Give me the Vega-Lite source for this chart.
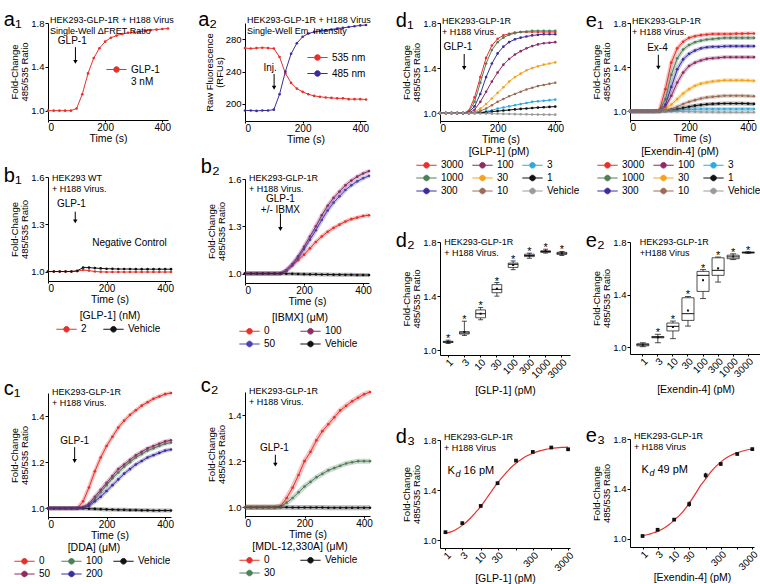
{
"$schema":"https://vega.github.io/schema/vega-lite/v6.json",
"background":"white",
"padding":{"left":3,"top":10,"right":0,"bottom":0},
"config":{
 "font":"Liberation Sans",
 "view":{"stroke":null},
 "axis":{"grid":false,"domainColor":"#000","tickColor":"#000","labelColor":"#000","titleColor":"#000","labelFontSize":10,"titleFontSize":10.5,"titleFontWeight":"normal","tickSize":3,"labelPadding":1,"titlePadding":2},
 "axisX":{"tickSize":2,"titlePadding":1,"labelPadding":0},
 "axisY":{"titlePadding":1,"titleLineHeight":10,"titleFontSize":9.5,"labelFontSize":9.5},
 "legend":{"titleFontWeight":"normal","titleFontSize":10.5,"labelFontSize":10,"titleAnchor":"middle","columnPadding":10,"rowPadding":0,"labelOffset":7,"titlePadding":0,"titleColor":"#000","labelColor":"#000"},
 "title":{"fontSize":20,"fontWeight":"normal","anchor":"start","frame":"bounds","offset":-14,"dx":-6,"color":"#000"},
 "text":{"color":"#000"}
},
"spacing":15,
"resolve":{"scale":{"color":"independent","x":"independent","y":"independent"}},
"hconcat":[
{"spacing":19,"resolve":{"scale":{"color":"independent","x":"independent","y":"independent"}},"hconcat":[
{"spacing":44,"resolve":{"scale":{"color":"independent","x":"independent","y":"independent"}},"vconcat":[
 {"spacing":22,"resolve":{"scale":{"color":"independent","x":"independent","y":"independent"}},"vconcat":[
  {"title":{"text":"a₁"},"width":120,"height":97,
   "data":{"values":[{"t":0,"g":1},{"t":20,"g":1},{"t":40,"g":1},{"t":60,"g":1},{"t":80,"g":1},{"t":100,"g":1.02},{"t":120,"g":1.15},{"t":140,"g":1.34},{"t":160,"g":1.48},{"t":180,"g":1.57},{"t":200,"g":1.63},{"t":220,"g":1.665},{"t":240,"g":1.685},{"t":260,"g":1.7},{"t":280,"g":1.71},{"t":300,"g":1.715},{"t":320,"g":1.72},{"t":340,"g":1.73},{"t":360,"g":1.735},{"t":380,"g":1.74},{"t":400,"g":1.745},{"t":420,"g":1.75}]},
   "layer":[
    {"transform":[{"fold":["g"],"as":["s","v"]}],"mark":{"type":"line","strokeWidth":1},"encoding":{
      "x":{"field":"t","type":"quantitative","scale":{"domain":[0,420],"nice":false},"axis":{"values":[0,100,200,300,400],"title":"Time (s)"}},
      "y":{"field":"v","type":"quantitative","scale":{"domain":[0.915,1.8],"nice":false,"zero":false},"axis":{"values":[1,1.2,1.4,1.6,1.8],"format":".1f","title":["Fold-Change","485/535 Ratio"]}},
      "color":{"field":"s","type":"nominal","scale":{"domain":["g"],"range":["#e8302a"]},"legend":{"orient":"none","legendX":61,"legendY":39,"title":null,"labelExpr":"['GLP-1','3 nM']","symbolType":"M-1.45,0L-0.4,0M0.4,0L1.45,0M0.4,0A0.4,0.4,0,1,1,-0.4,0A0.4,0.4,0,1,1,0.4,0Z","symbolSize":196,"symbolStrokeWidth":1}}}},
    {"transform":[{"fold":["g"],"as":["s","v"]}],"mark":{"type":"point","filled":true,"size":7,"opacity":1},"encoding":{"x":{"field":"t","type":"quantitative"},"y":{"field":"v","type":"quantitative"},
      "color":{"field":"s","type":"nominal","scale":{"domain":["g"],"range":["#e8302a"]},"legend":{"orient":"none","legendX":61,"legendY":39,"title":null,"labelExpr":"['GLP-1','3 nM']","symbolType":"M-1.45,0L-0.4,0M0.4,0L1.45,0M0.4,0A0.4,0.4,0,1,1,-0.4,0A0.4,0.4,0,1,1,0.4,0Z","symbolSize":196,"symbolStrokeWidth":1}}}},
    {"data":{"values":[{}]},"mark":{"type":"text","align":"left","baseline":"bottom","fontSize":9,"lineHeight":10.5,"dx":2,"dy":2,"text":["HEK293-GLP-1R + H188 Virus","Single-Well ΔFRET Ratio"]},"encoding":{"x":{"datum":0},"y":{"datum":1.8}}},
    {"data":{"values":[{}]},"mark":{"type":"text","fontSize":10,"text":"GLP-1"},"encoding":{"x":{"datum":85},"y":{"datum":1.64}}},
    {"data":{"values":[{}]},"mark":{"type":"rule","color":"#000"},"encoding":{"x":{"datum":96},"y":{"datum":1.58},"y2":{"datum":1.455}}},
    {"data":{"values":[{}]},"mark":{"type":"point","shape":"triangle-down","filled":true,"size":20,"color":"#000","opacity":1},"encoding":{"x":{"datum":96},"y":{"datum":1.445}}}
   ]},
  {"title":{"text":"b₁"},"width":123,"height":104,
   "data":{"values":[{"t":0,"2":1,"Vehicle":1},{"t":20,"2":1,"Vehicle":1},{"t":40,"2":1,"Vehicle":1},{"t":60,"2":1,"Vehicle":1},{"t":80,"2":1,"Vehicle":1},{"t":100,"2":1.002,"Vehicle":1.005},{"t":120,"2":1.01,"Vehicle":1.025},{"t":140,"2":1.006,"Vehicle":1.025},{"t":160,"2":1,"Vehicle":1.022},{"t":180,"2":0.998,"Vehicle":1.02},{"t":200,"2":0.997,"Vehicle":1.018},{"t":220,"2":0.997,"Vehicle":1.017},{"t":240,"2":0.997,"Vehicle":1.016},{"t":260,"2":0.997,"Vehicle":1.016},{"t":280,"2":0.997,"Vehicle":1.016},{"t":300,"2":0.997,"Vehicle":1.015},{"t":320,"2":0.997,"Vehicle":1.015},{"t":340,"2":0.997,"Vehicle":1.015},{"t":360,"2":0.997,"Vehicle":1.015},{"t":380,"2":0.997,"Vehicle":1.015},{"t":400,"2":0.997,"Vehicle":1.015},{"t":420,"2":0.997,"Vehicle":1.015}]},
   "layer":[
    {"transform":[{"fold":["2","Vehicle"],"as":["s","v"]}],"mark":{"type":"line","strokeWidth":1},"encoding":{
      "x":{"field":"t","type":"quantitative","scale":{"domain":[0,420],"nice":false},"axis":{"values":[0,100,200,300,400],"title":"Time (s)"}},
      "y":{"field":"v","type":"quantitative","scale":{"domain":[0.94,1.6],"nice":false,"zero":false},"axis":{"values":[1,1.3,1.6],"format":".1f","title":["Fold-Change","485/535 Ratio"]}},
      "color":{"field":"s","type":"nominal","scale":{"domain":["2","Vehicle"],"range":["#e8302a","#111111"]},"legend":{"title":"[GLP-1] (nM)","orient":"none","legendX":11,"legendY":134,"direction":"horizontal","columns":2,"columnPadding":14,"symbolType":"M-1.45,0L-0.4,0M0.4,0L1.45,0M0.4,0A0.4,0.4,0,1,1,-0.4,0A0.4,0.4,0,1,1,0.4,0Z","symbolSize":196,"symbolStrokeWidth":1}}}},
    {"transform":[{"fold":["2","Vehicle"],"as":["s","v"]}],"mark":{"type":"point","filled":true,"size":7,"opacity":1},"encoding":{"x":{"field":"t","type":"quantitative"},"y":{"field":"v","type":"quantitative"},
      "color":{"field":"s","type":"nominal","scale":{"domain":["2","Vehicle"],"range":["#e8302a","#111111"]},"legend":{"title":"[GLP-1] (nM)","orient":"none","legendX":11,"legendY":134,"direction":"horizontal","columns":2,"columnPadding":14,"symbolType":"M-1.45,0L-0.4,0M0.4,0L1.45,0M0.4,0A0.4,0.4,0,1,1,-0.4,0A0.4,0.4,0,1,1,0.4,0Z","symbolSize":196,"symbolStrokeWidth":1}}}},
    {"data":{"values":[{}]},"mark":{"type":"text","align":"left","baseline":"bottom","fontSize":9,"lineHeight":10.5,"dx":4,"dy":6,"text":["HEK293 WT","+ H188 Virus."]},"encoding":{"x":{"datum":0},"y":{"datum":1.6}}},
    {"data":{"values":[{}]},"mark":{"type":"text","fontSize":10,"text":"GLP-1"},"encoding":{"x":{"datum":80},"y":{"datum":1.43}}},
    {"data":{"values":[{}]},"mark":{"type":"text","fontSize":10,"text":"Negative Control"},"encoding":{"x":{"datum":278},"y":{"datum":1.18}}},
    {"data":{"values":[{}]},"mark":{"type":"rule","color":"#000"},"encoding":{"x":{"datum":93},"y":{"datum":1.38},"y2":{"datum":1.325}}},
    {"data":{"values":[{}]},"mark":{"type":"point","shape":"triangle-down","filled":true,"size":20,"color":"#000","opacity":1},"encoding":{"x":{"datum":93},"y":{"datum":1.318}}}
   ]}
 ]},
 {"title":{"text":"c₁"},"width":123,"height":124,
  "data":{"values":[{"t":0,"0":1,"100":1,"Vehicle":1,"50":1,"200":1},{"t":20,"0":1,"100":1,"Vehicle":1,"50":1,"200":1},{"t":40,"0":1,"100":1,"Vehicle":1,"50":1,"200":1},{"t":60,"0":1,"100":1,"Vehicle":1,"50":1,"200":1},{"t":80,"0":1,"100":1,"Vehicle":1,"50":1,"200":1},{"t":100,"0":1,"100":1,"Vehicle":1,"50":1,"200":1},{"t":120,"0":1.03,"100":1.003,"Vehicle":0.999,"50":1.005,"200":1.002},{"t":140,"0":1.09,"100":1.015,"Vehicle":0.998,"50":1.02,"200":1.01},{"t":160,"0":1.16,"100":1.04,"Vehicle":0.997,"50":1.05,"200":1.03},{"t":180,"0":1.22,"100":1.07,"Vehicle":0.996,"50":1.08,"200":1.05},{"t":200,"0":1.27,"100":1.1,"Vehicle":0.995,"50":1.11,"200":1.075},{"t":220,"0":1.31,"100":1.13,"Vehicle":0.994,"50":1.14,"200":1.1},{"t":240,"0":1.35,"100":1.155,"Vehicle":0.993,"50":1.17,"200":1.125},{"t":260,"0":1.38,"100":1.18,"Vehicle":0.993,"50":1.19,"200":1.15},{"t":280,"0":1.405,"100":1.2,"Vehicle":0.992,"50":1.21,"200":1.17},{"t":300,"0":1.425,"100":1.22,"Vehicle":0.992,"50":1.23,"200":1.19},{"t":320,"0":1.445,"100":1.235,"Vehicle":0.991,"50":1.245,"200":1.205},{"t":340,"0":1.46,"100":1.25,"Vehicle":0.991,"50":1.26,"200":1.22},{"t":360,"0":1.475,"100":1.26,"Vehicle":0.99,"50":1.27,"200":1.23},{"t":380,"0":1.485,"100":1.27,"Vehicle":0.99,"50":1.28,"200":1.24},{"t":400,"0":1.495,"100":1.28,"Vehicle":0.99,"50":1.29,"200":1.25},{"t":420,"0":1.5,"100":1.285,"Vehicle":0.99,"50":1.295,"200":1.255}]},
  "layer":[
   {"transform":[{"fold":["0","100","Vehicle","50","200"],"as":["s","v"]}],"mark":{"type":"line","strokeWidth":1},"encoding":{
     "x":{"field":"t","type":"quantitative","scale":{"domain":[0,420],"nice":false},"axis":{"values":[0,100,200,300,400],"title":"Time (s)"}},
     "y":{"field":"v","type":"quantitative","scale":{"domain":[0.962,1.5],"nice":false,"zero":false},"axis":{"values":[1,1.1,1.2,1.3,1.4,1.5],"format":".1f","title":["Fold-Change","485/535 Ratio"]}},
     "color":{"field":"s","type":"nominal","scale":{"domain":["0","100","Vehicle","50","200"],"range":["#e8302a","#4e7f59","#111111","#8e2b64","#3a2e9e"]},"legend":{"title":"[DDA] (μM)","orient":"none","legendX":-31,"legendY":150,"direction":"horizontal","columns":3,"columnPadding":8,"symbolType":"M-1.45,0L-0.4,0M0.4,0L1.45,0M0.4,0A0.4,0.4,0,1,1,-0.4,0A0.4,0.4,0,1,1,0.4,0Z","symbolSize":196,"symbolStrokeWidth":1}}}},
   {"transform":[{"fold":["0","100","Vehicle","50","200"],"as":["s","v"]}],"mark":{"type":"point","filled":true,"size":7,"opacity":1},"encoding":{"x":{"field":"t","type":"quantitative"},"y":{"field":"v","type":"quantitative"},
     "color":{"field":"s","type":"nominal","scale":{"domain":["0","100","Vehicle","50","200"],"range":["#e8302a","#4e7f59","#111111","#8e2b64","#3a2e9e"]},"legend":{"title":"[DDA] (μM)","orient":"none","legendX":-31,"legendY":150,"direction":"horizontal","columns":3,"columnPadding":8,"symbolType":"M-1.45,0L-0.4,0M0.4,0L1.45,0M0.4,0A0.4,0.4,0,1,1,-0.4,0A0.4,0.4,0,1,1,0.4,0Z","symbolSize":196,"symbolStrokeWidth":1}}}},
   {"transform":[{"fold":["0","100","Vehicle","50","200"],"as":["s","v"]}],"mark":{"type":"line","strokeWidth":4,"opacity":0.3},"encoding":{"x":{"field":"t","type":"quantitative"},"y":{"field":"v","type":"quantitative"},
     "color":{"field":"s","type":"nominal","scale":{"domain":["0","100","Vehicle","50","200"],"range":["#e8302a","#4e7f59","#111111","#8e2b64","#3a2e9e"]},"legend":{"title":"[DDA] (μM)","orient":"none","legendX":-31,"legendY":150,"direction":"horizontal","columns":3,"columnPadding":8,"symbolType":"M-1.45,0L-0.4,0M0.4,0L1.45,0M0.4,0A0.4,0.4,0,1,1,-0.4,0A0.4,0.4,0,1,1,0.4,0Z","symbolSize":196,"symbolStrokeWidth":1}}}},
   {"data":{"values":[{}]},"mark":{"type":"text","align":"left","baseline":"bottom","fontSize":9,"lineHeight":10.5,"dx":4,"dy":4,"text":["HEK293-GLP-1R","+ H188 Virus."]},"encoding":{"x":{"datum":0},"y":{"datum":1.5}}},
   {"data":{"values":[{}]},"mark":{"type":"text","fontSize":10,"text":"GLP-1"},"encoding":{"x":{"datum":91},"y":{"datum":1.293}}},
   {"data":{"values":[{}]},"mark":{"type":"rule","color":"#000"},"encoding":{"x":{"datum":91},"y":{"datum":1.265},"y2":{"datum":1.21}}},
   {"data":{"values":[{}]},"mark":{"type":"point","shape":"triangle-down","filled":true,"size":20,"color":"#000","opacity":1},"encoding":{"x":{"datum":91},"y":{"datum":1.205}}}
  ]}
]},
{"spacing":27,"resolve":{"scale":{"color":"independent","x":"independent","y":"independent"}},"vconcat":[
 {"spacing":12,"resolve":{"scale":{"color":"independent","x":"independent","y":"independent"}},"vconcat":[
 {"title":{"text":"a₂"},"width":121,"height":98,
  "data":{"values":[{"t":0,"535 nm":269,"485 nm":192},{"t":20,"535 nm":268.5,"485 nm":192},{"t":40,"535 nm":269,"485 nm":191.5},{"t":60,"535 nm":269.5,"485 nm":192},{"t":80,"535 nm":269,"485 nm":192},{"t":100,"535 nm":268.5,"485 nm":193},{"t":120,"535 nm":258,"485 nm":212},{"t":140,"535 nm":238,"485 nm":240},{"t":160,"535 nm":226,"485 nm":262},{"t":180,"535 nm":219,"485 nm":275},{"t":200,"535 nm":215,"485 nm":283},{"t":220,"535 nm":212,"485 nm":287},{"t":240,"535 nm":210,"485 nm":289},{"t":260,"535 nm":209,"485 nm":290},{"t":280,"535 nm":208,"485 nm":291},{"t":300,"535 nm":207.5,"485 nm":292},{"t":320,"535 nm":207,"485 nm":293},{"t":340,"535 nm":207,"485 nm":294},{"t":360,"535 nm":206,"485 nm":295},{"t":380,"535 nm":206,"485 nm":296},{"t":400,"535 nm":206,"485 nm":297},{"t":420,"535 nm":205.5,"485 nm":297.5}]},
  "layer":[
   {"transform":[{"fold":["535 nm","485 nm"],"as":["s","v"]}],"mark":{"type":"line","strokeWidth":1},"encoding":{
     "x":{"field":"t","type":"quantitative","scale":{"domain":[0,420],"nice":false},"axis":{"values":[0,100,200,300,400],"title":"Time (s)"}},
     "y":{"field":"v","type":"quantitative","scale":{"domain":[179,300],"nice":false,"zero":false},"axis":{"values":[200,220,240,260,280,300],"title":["Raw Fluorescence","(RFUs)"]}},
     "color":{"field":"s","type":"nominal","scale":{"domain":["535 nm","485 nm"],"range":["#e8302a","#3a2e9e"]},"legend":{"orient":"none","legendX":65,"legendY":27,"title":null,"symbolType":"M-1.45,0L-0.4,0M0.4,0L1.45,0M0.4,0A0.4,0.4,0,1,1,-0.4,0A0.4,0.4,0,1,1,0.4,0Z","symbolSize":196,"symbolStrokeWidth":1,"rowPadding":3}}}},
   {"transform":[{"fold":["535 nm","485 nm"],"as":["s","v"]}],"mark":{"type":"point","filled":true,"size":7,"opacity":1},"encoding":{"x":{"field":"t","type":"quantitative"},"y":{"field":"v","type":"quantitative"},
     "color":{"field":"s","type":"nominal","scale":{"domain":["535 nm","485 nm"],"range":["#e8302a","#3a2e9e"]},"legend":{"orient":"none","legendX":65,"legendY":27,"title":null,"symbolType":"M-1.45,0L-0.4,0M0.4,0L1.45,0M0.4,0A0.4,0.4,0,1,1,-0.4,0A0.4,0.4,0,1,1,0.4,0Z","symbolSize":196,"symbolStrokeWidth":1,"rowPadding":3}}}},
   {"data":{"values":[{}]},"mark":{"type":"text","align":"left","baseline":"bottom","fontSize":9,"lineHeight":10.5,"dx":2,"dy":2,"text":["HEK293-GLP-1R + H188 Virus","Single-Well Em. Intensity"]},"encoding":{"x":{"datum":0},"y":{"datum":300}}},
   {"data":{"values":[{}]},"mark":{"type":"text","fontSize":10,"text":"Inj."},"encoding":{"x":{"datum":87},"y":{"datum":244}}},
   {"data":{"values":[{}]},"mark":{"type":"rule","color":"#000"},"encoding":{"x":{"datum":101},"y":{"datum":237},"y2":{"datum":222}}},
   {"data":{"values":[{}]},"mark":{"type":"point","shape":"triangle-down","filled":true,"size":20,"color":"#000","opacity":1},"encoding":{"x":{"datum":101},"y":{"datum":220}}}
  ]},
 {"title":{"text":"b₂"},"width":124,"height":104,
  "data":{"values":[{"t":0,"0":1,"100":1,"50":1,"Vehicle":1},{"t":20,"0":1,"100":1,"50":1,"Vehicle":1},{"t":40,"0":1,"100":1,"50":1,"Vehicle":1},{"t":60,"0":1,"100":1,"50":1,"Vehicle":1},{"t":80,"0":1,"100":1,"50":1,"Vehicle":1},{"t":100,"0":1,"100":1,"50":1,"Vehicle":1},{"t":120,"0":1,"100":1,"50":1,"Vehicle":1},{"t":140,"0":1.02,"100":1.02,"50":1.02,"Vehicle":0.999},{"t":160,"0":1.05,"100":1.06,"50":1.055,"Vehicle":0.998},{"t":180,"0":1.085,"100":1.11,"50":1.1,"Vehicle":0.997},{"t":200,"0":1.12,"100":1.17,"50":1.155,"Vehicle":0.996},{"t":220,"0":1.16,"100":1.235,"50":1.215,"Vehicle":0.995},{"t":240,"0":1.2,"100":1.3,"50":1.275,"Vehicle":0.995},{"t":260,"0":1.235,"100":1.37,"50":1.34,"Vehicle":0.994},{"t":280,"0":1.265,"100":1.43,"50":1.4,"Vehicle":0.994},{"t":300,"0":1.29,"100":1.48,"50":1.45,"Vehicle":0.993},{"t":320,"0":1.31,"100":1.52,"50":1.49,"Vehicle":0.993},{"t":340,"0":1.33,"100":1.56,"50":1.53,"Vehicle":0.992},{"t":360,"0":1.345,"100":1.59,"50":1.56,"Vehicle":0.992},{"t":380,"0":1.355,"100":1.615,"50":1.585,"Vehicle":0.991},{"t":400,"0":1.365,"100":1.635,"50":1.605,"Vehicle":0.991},{"t":420,"0":1.37,"100":1.65,"50":1.62,"Vehicle":0.99}]},
  "layer":[
   {"transform":[{"fold":["0","100","50","Vehicle"],"as":["s","v"]}],"mark":{"type":"line","strokeWidth":1},"encoding":{
     "x":{"field":"t","type":"quantitative","scale":{"domain":[0,420],"nice":false},"axis":{"values":[0,100,200,300,400],"title":"Time (s)"}},
     "y":{"field":"v","type":"quantitative","scale":{"domain":[0.94,1.6],"nice":false,"zero":false},"axis":{"values":[1,1.3,1.6],"format":".1f","title":["Fold-Change","485/535 Ratio"]}},
     "color":{"field":"s","type":"nominal","scale":{"domain":["0","100","50","Vehicle"],"range":["#e8302a","#8e2b64","#4b41b0","#111111"]},"legend":{"title":"[IBMX] (μM)","orient":"none","legendX":-3,"legendY":134,"direction":"horizontal","columns":2,"columnPadding":22,"symbolType":"M-1.45,0L-0.4,0M0.4,0L1.45,0M0.4,0A0.4,0.4,0,1,1,-0.4,0A0.4,0.4,0,1,1,0.4,0Z","symbolSize":196,"symbolStrokeWidth":1}}}},
   {"transform":[{"fold":["0","100","50","Vehicle"],"as":["s","v"]}],"mark":{"type":"point","filled":true,"size":7,"opacity":1},"encoding":{"x":{"field":"t","type":"quantitative"},"y":{"field":"v","type":"quantitative"},
     "color":{"field":"s","type":"nominal","scale":{"domain":["0","100","50","Vehicle"],"range":["#e8302a","#8e2b64","#4b41b0","#111111"]},"legend":{"title":"[IBMX] (μM)","orient":"none","legendX":-3,"legendY":134,"direction":"horizontal","columns":2,"columnPadding":22,"symbolType":"M-1.45,0L-0.4,0M0.4,0L1.45,0M0.4,0A0.4,0.4,0,1,1,-0.4,0A0.4,0.4,0,1,1,0.4,0Z","symbolSize":196,"symbolStrokeWidth":1}}}},
   {"transform":[{"fold":["0","100","50","Vehicle"],"as":["s","v"]}],"mark":{"type":"line","strokeWidth":4,"opacity":0.3},"encoding":{"x":{"field":"t","type":"quantitative"},"y":{"field":"v","type":"quantitative"},
     "color":{"field":"s","type":"nominal","scale":{"domain":["0","100","50","Vehicle"],"range":["#e8302a","#8e2b64","#4b41b0","#111111"]},"legend":{"title":"[IBMX] (μM)","orient":"none","legendX":-3,"legendY":134,"direction":"horizontal","columns":2,"columnPadding":22,"symbolType":"M-1.45,0L-0.4,0M0.4,0L1.45,0M0.4,0A0.4,0.4,0,1,1,-0.4,0A0.4,0.4,0,1,1,0.4,0Z","symbolSize":196,"symbolStrokeWidth":1}}}},
   {"data":{"values":[{}]},"mark":{"type":"text","align":"left","baseline":"bottom","fontSize":9,"lineHeight":10.5,"dx":4,"dy":4,"text":["HEK293-GLP-1R","+ H188 Virus."]},"encoding":{"x":{"datum":0},"y":{"datum":1.6}}},
   {"data":{"values":[{}]},"mark":{"type":"text","fontSize":10,"lineHeight":11,"text":["GLP-1","+/- IBMX"]},"encoding":{"x":{"datum":120},"y":{"datum":1.47}}},
   {"data":{"values":[{}]},"mark":{"type":"rule","color":"#000"},"encoding":{"x":{"datum":120},"y":{"datum":1.38},"y2":{"datum":1.29}}},
   {"data":{"values":[{}]},"mark":{"type":"point","shape":"triangle-down","filled":true,"size":20,"color":"#000","opacity":1},"encoding":{"x":{"datum":120},"y":{"datum":1.283}}}
  ]}
 ]},
 {"title":{"text":"c₂"},"width":125,"height":124,
  "data":{"values":[{"t":0,"0":1,"Vehicle":1,"30":1},{"t":20,"0":1,"Vehicle":1,"30":1},{"t":40,"0":1,"Vehicle":1,"30":1},{"t":60,"0":1,"Vehicle":1,"30":1},{"t":80,"0":1,"Vehicle":1,"30":1},{"t":100,"0":1,"Vehicle":1,"30":1},{"t":120,"0":1.005,"Vehicle":1,"30":1.003},{"t":140,"0":1.04,"Vehicle":1,"30":1.02},{"t":160,"0":1.085,"Vehicle":0.999,"30":1.04},{"t":180,"0":1.14,"Vehicle":0.999,"30":1.065},{"t":200,"0":1.2,"Vehicle":0.999,"30":1.09},{"t":220,"0":1.24,"Vehicle":0.999,"30":1.11},{"t":240,"0":1.29,"Vehicle":0.999,"30":1.13},{"t":260,"0":1.33,"Vehicle":0.999,"30":1.145},{"t":280,"0":1.36,"Vehicle":0.998,"30":1.16},{"t":300,"0":1.39,"Vehicle":0.998,"30":1.17},{"t":320,"0":1.42,"Vehicle":0.998,"30":1.18},{"t":340,"0":1.44,"Vehicle":0.998,"30":1.19},{"t":360,"0":1.46,"Vehicle":0.998,"30":1.195},{"t":380,"0":1.475,"Vehicle":0.998,"30":1.2},{"t":400,"0":1.49,"Vehicle":0.998,"30":1.2},{"t":420,"0":1.5,"Vehicle":0.998,"30":1.2}]},
  "layer":[
   {"transform":[{"fold":["0","Vehicle","30"],"as":["s","v"]}],"mark":{"type":"line","strokeWidth":1},"encoding":{
     "x":{"field":"t","type":"quantitative","scale":{"domain":[0,420],"nice":false},"axis":{"values":[0,100,200,300,400],"title":"Time (s)"}},
     "y":{"field":"v","type":"quantitative","scale":{"domain":[0.962,1.5],"nice":false,"zero":false},"axis":{"values":[1,1.1,1.2,1.3,1.4,1.5],"format":".1f","title":["Fold-Change","485/535 Ratio"]}},
     "color":{"field":"s","type":"nominal","scale":{"domain":["0","Vehicle","30"],"range":["#e8302a","#111111","#4e7f59"]},"legend":{"title":"[MDL-12,330A] (μM)","orient":"none","legendX":-3,"legendY":150,"direction":"horizontal","columns":2,"columnPadding":22,"symbolType":"M-1.45,0L-0.4,0M0.4,0L1.45,0M0.4,0A0.4,0.4,0,1,1,-0.4,0A0.4,0.4,0,1,1,0.4,0Z","symbolSize":196,"symbolStrokeWidth":1}}}},
   {"transform":[{"fold":["0","Vehicle","30"],"as":["s","v"]}],"mark":{"type":"point","filled":true,"size":7,"opacity":1},"encoding":{"x":{"field":"t","type":"quantitative"},"y":{"field":"v","type":"quantitative"},
     "color":{"field":"s","type":"nominal","scale":{"domain":["0","Vehicle","30"],"range":["#e8302a","#111111","#4e7f59"]},"legend":{"title":"[MDL-12,330A] (μM)","orient":"none","legendX":-3,"legendY":150,"direction":"horizontal","columns":2,"columnPadding":22,"symbolType":"M-1.45,0L-0.4,0M0.4,0L1.45,0M0.4,0A0.4,0.4,0,1,1,-0.4,0A0.4,0.4,0,1,1,0.4,0Z","symbolSize":196,"symbolStrokeWidth":1}}}},
   {"transform":[{"fold":["0","Vehicle","30"],"as":["s","v"]}],"mark":{"type":"line","strokeWidth":5,"opacity":0.3},"encoding":{"x":{"field":"t","type":"quantitative"},"y":{"field":"v","type":"quantitative"},
     "color":{"field":"s","type":"nominal","scale":{"domain":["0","Vehicle","30"],"range":["#e8302a","#111111","#4e7f59"]},"legend":{"title":"[MDL-12,330A] (μM)","orient":"none","legendX":-3,"legendY":150,"direction":"horizontal","columns":2,"columnPadding":22,"symbolType":"M-1.45,0L-0.4,0M0.4,0L1.45,0M0.4,0A0.4,0.4,0,1,1,-0.4,0A0.4,0.4,0,1,1,0.4,0Z","symbolSize":196,"symbolStrokeWidth":1}}}},
   {"data":{"values":[{}]},"mark":{"type":"text","align":"left","baseline":"bottom","fontSize":9,"lineHeight":10.5,"dx":4,"dy":4,"text":["HEK293-GLP-1R","+ H188 Virus."]},"encoding":{"x":{"datum":0},"y":{"datum":1.5}}},
   {"data":{"values":[{}]},"mark":{"type":"text","fontSize":10,"text":"GLP-1"},"encoding":{"x":{"datum":99},"y":{"datum":1.256}}},
   {"data":{"values":[{}]},"mark":{"type":"rule","color":"#000"},"encoding":{"x":{"datum":102},"y":{"datum":1.228},"y2":{"datum":1.19}}},
   {"data":{"values":[{}]},"mark":{"type":"point","shape":"triangle-down","filled":true,"size":20,"color":"#000","opacity":1},"encoding":{"x":{"datum":102},"y":{"datum":1.185}}}
  ]}
]}
]},
{"spacing":0,"resolve":{"scale":{"color":"independent","x":"independent","y":"independent"}},"hconcat":[
{"spacing":30,"resolve":{"scale":{"color":"independent","x":"independent","y":"independent"}},"vconcat":[
 {"title":{"text":"d₁"},"width":121,"height":98,
  "data":{"values":[
   {"t":0,"3000":1,"100":1,"3":1,"1000":1,"30":1,"1":1,"300":1,"10":1,"Vehicle":1},
   {"t":20,"3000":1,"100":1,"3":1,"1000":1,"30":1,"1":1,"300":1,"10":1,"Vehicle":1},
   {"t":40,"3000":1,"100":1,"3":1,"1000":1,"30":1,"1":1,"300":1,"10":1,"Vehicle":1},
   {"t":60,"3000":1,"100":1,"3":1,"1000":1,"30":1,"1":1,"300":1,"10":1,"Vehicle":1},
   {"t":80,"3000":1,"100":1,"3":1,"1000":1,"30":1,"1":1,"300":1,"10":1,"Vehicle":1},
   {"t":100,"3000":1.02,"100":1,"3":1,"1000":1.01,"30":1,"1":1,"300":1.005,"10":1,"Vehicle":0.999},
   {"t":120,"3000":1.14,"100":1.03,"3":1,"1000":1.1,"30":1.01,"1":1,"300":1.06,"10":1.005,"Vehicle":0.998},
   {"t":140,"3000":1.32,"100":1.1,"3":1.005,"1000":1.27,"30":1.04,"1":1.003,"300":1.17,"10":1.02,"Vehicle":0.997},
   {"t":160,"3000":1.49,"100":1.19,"3":1.015,"1000":1.44,"30":1.08,"1":1.008,"300":1.32,"10":1.04,"Vehicle":0.996},
   {"t":180,"3000":1.6,"100":1.28,"3":1.025,"1000":1.56,"30":1.13,"1":1.013,"300":1.44,"10":1.07,"Vehicle":0.995},
   {"t":200,"3000":1.66,"100":1.36,"3":1.04,"1000":1.63,"30":1.18,"1":1.018,"300":1.53,"10":1.1,"Vehicle":0.994},
   {"t":220,"3000":1.69,"100":1.43,"3":1.05,"1000":1.67,"30":1.23,"1":1.023,"300":1.59,"10":1.125,"Vehicle":0.993},
   {"t":240,"3000":1.705,"100":1.48,"3":1.06,"1000":1.695,"30":1.28,"1":1.028,"300":1.63,"10":1.15,"Vehicle":0.992},
   {"t":260,"3000":1.715,"100":1.52,"3":1.07,"1000":1.71,"30":1.32,"1":1.033,"300":1.655,"10":1.17,"Vehicle":0.991},
   {"t":280,"3000":1.72,"100":1.55,"3":1.08,"1000":1.72,"30":1.35,"1":1.037,"300":1.67,"10":1.19,"Vehicle":0.99},
   {"t":300,"3000":1.72,"100":1.575,"3":1.09,"1000":1.725,"30":1.38,"1":1.041,"300":1.68,"10":1.21,"Vehicle":0.989},
   {"t":320,"3000":1.72,"100":1.595,"3":1.1,"1000":1.73,"30":1.4,"1":1.045,"300":1.69,"10":1.225,"Vehicle":0.988},
   {"t":340,"3000":1.72,"100":1.61,"3":1.105,"1000":1.73,"30":1.415,"1":1.049,"300":1.695,"10":1.24,"Vehicle":0.987},
   {"t":360,"3000":1.72,"100":1.62,"3":1.11,"1000":1.73,"30":1.43,"1":1.052,"300":1.7,"10":1.25,"Vehicle":0.987},
   {"t":380,"3000":1.72,"100":1.625,"3":1.115,"1000":1.73,"30":1.44,"1":1.055,"300":1.7,"10":1.26,"Vehicle":0.986},
   {"t":400,"3000":1.72,"100":1.63,"3":1.12,"1000":1.73,"30":1.45,"1":1.058,"300":1.7,"10":1.27,"Vehicle":0.986}]},
  "layer":[
   {"transform":[{"fold":["3000","100","3","1000","30","1","300","10","Vehicle"],"as":["s","v"]}],"mark":{"type":"line","strokeWidth":1},"encoding":{
     "x":{"field":"t","type":"quantitative","scale":{"domain":[0,420],"nice":false},"axis":{"values":[0,100,200,300,400],"title":"Time (s)"}},
     "y":{"field":"v","type":"quantitative","scale":{"domain":[0.93,1.8],"nice":false,"zero":false},"axis":{"values":[1,1.2,1.4,1.6,1.8],"format":".1f","title":["Fold-Change","485/535 Ratio"]}},
     "color":{"field":"s","type":"nominal","scale":{"domain":["3000","100","3","1000","30","1","300","10","Vehicle"],"range":["#e8302a","#8e2b64","#31a9dc","#4e7f59","#f6a21c","#111111","#3a2e9e","#9c6b55","#9a9a9a"]},"legend":{"title":"[GLP-1] (pM)","orient":"none","legendX":-26,"legendY":119,"padding":5,"direction":"horizontal","columns":3,"columnPadding":6,"symbolType":"M-1.45,0L-0.4,0M0.4,0L1.45,0M0.4,0A0.4,0.4,0,1,1,-0.4,0A0.4,0.4,0,1,1,0.4,0Z","symbolSize":196,"symbolStrokeWidth":1}}}},
   {"transform":[{"fold":["3000","100","3","1000","30","1","300","10","Vehicle"],"as":["s","v"]}],"mark":{"type":"point","filled":true,"size":7,"opacity":1},"encoding":{"x":{"field":"t","type":"quantitative"},"y":{"field":"v","type":"quantitative"},
     "color":{"field":"s","type":"nominal","scale":{"domain":["3000","100","3","1000","30","1","300","10","Vehicle"],"range":["#e8302a","#8e2b64","#31a9dc","#4e7f59","#f6a21c","#111111","#3a2e9e","#9c6b55","#9a9a9a"]},"legend":{"title":"[GLP-1] (pM)","orient":"none","legendX":-26,"legendY":119,"padding":5,"direction":"horizontal","columns":3,"columnPadding":6,"symbolType":"M-1.45,0L-0.4,0M0.4,0L1.45,0M0.4,0A0.4,0.4,0,1,1,-0.4,0A0.4,0.4,0,1,1,0.4,0Z","symbolSize":196,"symbolStrokeWidth":1}}}},
   {"data":{"values":[{}]},"mark":{"type":"text","align":"left","baseline":"bottom","fontSize":9,"lineHeight":10.5,"dx":2,"dy":3,"text":["HEK293-GLP-1R","+ H188 Virus."]},"encoding":{"x":{"datum":0},"y":{"datum":1.8}}},
   {"data":{"values":[{}]},"mark":{"type":"text","fontSize":10,"text":"GLP-1"},"encoding":{"x":{"datum":62},"y":{"datum":1.584}}},
   {"data":{"values":[{}]},"mark":{"type":"rule","color":"#000"},"encoding":{"x":{"datum":84},"y":{"datum":1.525},"y2":{"datum":1.41}}},
   {"data":{"values":[{}]},"mark":{"type":"point","shape":"triangle-down","filled":true,"size":20,"color":"#000","opacity":1},"encoding":{"x":{"datum":84},"y":{"datum":1.4}}}
  ]},
 {"title":{"text":"d₂"},"width":130,"height":113,
  "data":{"values":[
   {"c":"1","lo":1.05,"q1":1.057,"md":1.062,"q3":1.066,"hi":1.075,"mn":1.062,"st":"*"},
   {"c":"3","lo":1.11,"q1":1.12,"md":1.128,"q3":1.138,"hi":1.215,"mn":1.135,"st":"*"},
   {"c":"10","lo":1.225,"q1":1.24,"md":1.27,"q3":1.298,"hi":1.317,"mn":1.27,"st":"*"},
   {"c":"30","lo":1.4,"q1":1.425,"md":1.45,"q3":1.485,"hi":1.5,"mn":1.455,"st":"*"},
   {"c":"100","lo":1.595,"q1":1.612,"md":1.635,"q3":1.644,"hi":1.66,"mn":1.63,"st":"*"},
   {"c":"300","lo":1.68,"q1":1.692,"md":1.7,"q3":1.71,"hi":1.718,"mn":1.7,"st":"*"},
   {"c":"1000","lo":1.718,"q1":1.723,"md":1.73,"q3":1.735,"hi":1.747,"mn":1.733,"st":"*"},
   {"c":"3000","lo":1.7,"q1":1.708,"md":1.717,"q3":1.724,"hi":1.73,"mn":1.717,"st":"*"}]},
  "encoding":{"x":{"field":"c","type":"ordinal","sort":null,"scale":{"paddingInner":0.4,"paddingOuter":0.2},"axis":{"labelAngle":-45,"title":"[GLP-1] (pM)","titlePadding":6}}},
  "layer":[
   {"mark":{"type":"rule","color":"#222","strokeWidth":0.8},"encoding":{"y":{"field":"lo","type":"quantitative","scale":{"domain":[0.965,1.8],"nice":false,"zero":false},"axis":{"values":[1,1.2,1.4,1.6,1.8],"format":".1f","title":["Fold-Change","485/535 Ratio"]}},"y2":{"field":"hi"}}},
   {"mark":{"type":"tick","size":5,"thickness":0.8,"color":"#222","opacity":1},"encoding":{"y":{"field":"lo","type":"quantitative"}}},
   {"mark":{"type":"tick","size":5,"thickness":0.8,"color":"#222","opacity":1},"encoding":{"y":{"field":"hi","type":"quantitative"}}},
   {"mark":{"type":"bar","fill":"white","stroke":"#222","strokeWidth":0.8},"encoding":{"y":{"field":"q1","type":"quantitative"},"y2":{"field":"q3"}}},
   {"mark":{"type":"tick","size":10,"thickness":1,"color":"#111","opacity":1},"encoding":{"y":{"field":"md","type":"quantitative"}}},
   {"mark":{"type":"point","shape":"square","filled":true,"size":4,"color":"#111","opacity":1},"encoding":{"y":{"field":"mn","type":"quantitative"}}},
   {"mark":{"type":"text","baseline":"bottom","dy":4,"fontSize":11},"encoding":{"y":{"field":"hi","type":"quantitative"},"text":{"field":"st"}}},
   {"data":{"values":[{}]},"mark":{"type":"text","align":"left","baseline":"bottom","fontSize":9,"lineHeight":10.5,"dx":1,"dy":5,"text":["HEK293-GLP-1R","+ H188 Virus."]},"encoding":{"x":{"datum":"1","bandPosition":0},"y":{"datum":1.8}}}
  ]},
 {"title":{"text":"d₃"},"width":130,"height":108,
  "layer":[
   {"data":{"values":[{"x":1,"y":1.056},{"x":1.5,"y":1.07},{"x":2,"y":1.087},{"x":3,"y":1.12},{"x":5,"y":1.175},{"x":7,"y":1.22},{"x":10,"y":1.27},{"x":15,"y":1.34},{"x":20,"y":1.39},{"x":30,"y":1.458},{"x":50,"y":1.532},{"x":70,"y":1.577},{"x":100,"y":1.615},{"x":150,"y":1.65},{"x":200,"y":1.672},{"x":300,"y":1.695},{"x":500,"y":1.715},{"x":700,"y":1.726},{"x":1000,"y":1.733},{"x":2000,"y":1.741},{"x":3000,"y":1.743}]},
    "mark":{"type":"line","color":"#e8302a","strokeWidth":1.2,"interpolate":"monotone"},
    "encoding":{"x":{"field":"x","type":"quantitative","scale":{"type":"log","domain":[0.7,3400],"nice":false},"axis":{"values":[1,3,10,30,100,300,1000,3000],"format":"d","labelAngle":-45,"title":"[GLP-1] (pM)"}},
     "y":{"field":"y","type":"quantitative","scale":{"domain":[0.94,1.8],"nice":false,"zero":false},"axis":{"values":[1,1.2,1.4,1.6,1.8],"format":".1f","title":["Fold-Change","485/535 Ratio"]}}}},
   {"data":{"values":[{"x":1,"y":1.066,"lo":1.06,"hi":1.072},{"x":3,"y":1.138,"lo":1.132,"hi":1.144},{"x":10,"y":1.275,"lo":1.267,"hi":1.283},{"x":30,"y":1.456,"lo":1.444,"hi":1.468},{"x":100,"y":1.636,"lo":1.63,"hi":1.642},{"x":300,"y":1.705,"lo":1.7,"hi":1.71},{"x":1000,"y":1.74,"lo":1.735,"hi":1.745},{"x":3000,"y":1.726,"lo":1.72,"hi":1.732}]},
    "layer":[
     {"mark":{"type":"rule","color":"#111"},"encoding":{"x":{"field":"x","type":"quantitative"},"y":{"field":"lo","type":"quantitative"},"y2":{"field":"hi"}}},
     {"mark":{"type":"point","shape":"square","filled":true,"size":14,"color":"#111","opacity":1},"encoding":{"x":{"field":"x","type":"quantitative"},"y":{"field":"y","type":"quantitative"}}}
    ]},
   {"data":{"values":[{}]},"mark":{"type":"text","align":"left","baseline":"bottom","fontSize":9,"lineHeight":10.5,"dx":4,"dy":2,"text":["HEK293-GLP-1R","+ H188 Virus"]},"encoding":{"x":{"datum":0.7},"y":{"datum":1.8}}},
   {"data":{"values":[{}]},"mark":{"type":"text","align":"left","baseline":"middle","fontSize":11,"text":"K"},"encoding":{"x":{"datum":1.15},"y":{"datum":1.55}}},
   {"data":{"values":[{}]},"mark":{"type":"text","align":"left","baseline":"middle","fontSize":9,"fontStyle":"italic","dx":8,"dy":3,"text":"d"},"encoding":{"x":{"datum":1.15},"y":{"datum":1.55}}},
   {"data":{"values":[{}]},"mark":{"type":"text","align":"left","baseline":"middle","fontSize":11,"dx":16,"text":"16 pM"},"encoding":{"x":{"datum":1.15},"y":{"datum":1.55}}}
  ]}
]},
{"spacing":30,"resolve":{"scale":{"color":"independent","x":"independent","y":"independent"}},"vconcat":[
 {"title":{"text":"e₁"},"width":124,"height":97,
  "data":{"values":[
   {"t":0,"3000":1,"100":1,"3":1,"1000":1,"30":1,"1":1,"300":1,"10":1,"Vehicle":1},
   {"t":20,"3000":1,"100":1,"3":1,"1000":1,"30":1,"1":1,"300":1,"10":1,"Vehicle":1},
   {"t":40,"3000":1,"100":1,"3":1,"1000":1,"30":1,"1":1,"300":1,"10":1,"Vehicle":1},
   {"t":60,"3000":1,"100":1,"3":1,"1000":1,"30":1,"1":1,"300":1,"10":1,"Vehicle":1},
   {"t":80,"3000":1,"100":1,"3":1,"1000":1,"30":1,"1":1,"300":1,"10":1,"Vehicle":1},
   {"t":100,"3000":1.01,"100":1,"3":1,"1000":1.005,"30":1,"1":1,"300":1,"10":1,"Vehicle":1},
   {"t":120,"3000":1.2,"100":1.04,"3":1,"1000":1.11,"30":1.02,"1":1.003,"300":1.06,"10":1.005,"Vehicle":0.999},
   {"t":140,"3000":1.44,"100":1.14,"3":1.003,"1000":1.33,"30":1.06,"1":1.01,"300":1.22,"10":1.02,"Vehicle":0.998},
   {"t":160,"3000":1.57,"100":1.26,"3":1.008,"1000":1.48,"30":1.11,"1":1.02,"300":1.38,"10":1.04,"Vehicle":0.997},
   {"t":180,"3000":1.63,"100":1.35,"3":1.012,"1000":1.56,"30":1.16,"1":1.03,"300":1.47,"10":1.065,"Vehicle":0.996},
   {"t":200,"3000":1.665,"100":1.41,"3":1.015,"1000":1.6,"30":1.2,"1":1.04,"300":1.52,"10":1.085,"Vehicle":0.995},
   {"t":220,"3000":1.68,"100":1.44,"3":1.018,"1000":1.625,"30":1.23,"1":1.05,"300":1.55,"10":1.1,"Vehicle":0.994},
   {"t":240,"3000":1.69,"100":1.46,"3":1.02,"1000":1.64,"30":1.25,"1":1.057,"300":1.57,"10":1.115,"Vehicle":0.993},
   {"t":260,"3000":1.695,"100":1.475,"3":1.02,"1000":1.65,"30":1.26,"1":1.062,"300":1.58,"10":1.125,"Vehicle":0.992},
   {"t":280,"3000":1.7,"100":1.48,"3":1.02,"1000":1.655,"30":1.27,"1":1.066,"300":1.585,"10":1.13,"Vehicle":0.992},
   {"t":300,"3000":1.7,"100":1.485,"3":1.02,"1000":1.66,"30":1.275,"1":1.068,"300":1.585,"10":1.135,"Vehicle":0.991},
   {"t":320,"3000":1.7,"100":1.49,"3":1.02,"1000":1.665,"30":1.28,"1":1.07,"300":1.588,"10":1.14,"Vehicle":0.991},
   {"t":340,"3000":1.7,"100":1.49,"3":1.02,"1000":1.665,"30":1.28,"1":1.07,"300":1.59,"10":1.14,"Vehicle":0.99},
   {"t":360,"3000":1.703,"100":1.49,"3":1.02,"1000":1.665,"30":1.28,"1":1.07,"300":1.59,"10":1.14,"Vehicle":0.99},
   {"t":380,"3000":1.703,"100":1.49,"3":1.02,"1000":1.665,"30":1.28,"1":1.07,"300":1.59,"10":1.14,"Vehicle":0.99},
   {"t":400,"3000":1.705,"100":1.49,"3":1.02,"1000":1.665,"30":1.278,"1":1.068,"300":1.59,"10":1.138,"Vehicle":0.99},
   {"t":420,"3000":1.705,"100":1.49,"3":1.02,"1000":1.665,"30":1.275,"1":1.066,"300":1.59,"10":1.135,"Vehicle":0.99}]},
  "layer":[
   {"transform":[{"fold":["3000","100","3","1000","30","1","300","10","Vehicle"],"as":["s","v"]}],"mark":{"type":"line","strokeWidth":1},"encoding":{
     "x":{"field":"t","type":"quantitative","scale":{"domain":[0,420],"nice":false},"axis":{"values":[0,100,200,300,400],"title":"Time (s)"}},
     "y":{"field":"v","type":"quantitative","scale":{"domain":[0.92,1.8],"nice":false,"zero":false},"axis":{"values":[1,1.2,1.4,1.6,1.8],"format":".1f","title":["Fold-Change","485/535 Ratio"]}},
     "color":{"field":"s","type":"nominal","scale":{"domain":["3000","100","3","1000","30","1","300","10","Vehicle"],"range":["#e8302a","#8e2b64","#31a9dc","#4e7f59","#f6a21c","#111111","#3a2e9e","#9c6b55","#9a9a9a"]},"legend":{"title":"[Exendin-4] (pM)","orient":"none","legendX":-35,"legendY":119,"padding":5,"direction":"horizontal","columns":3,"columnPadding":6,"symbolType":"M-1.45,0L-0.4,0M0.4,0L1.45,0M0.4,0A0.4,0.4,0,1,1,-0.4,0A0.4,0.4,0,1,1,0.4,0Z","symbolSize":196,"symbolStrokeWidth":1}}}},
   {"transform":[{"fold":["3000","100","3","1000","30","1","300","10","Vehicle"],"as":["s","v"]}],"mark":{"type":"point","filled":true,"size":7,"opacity":1},"encoding":{"x":{"field":"t","type":"quantitative"},"y":{"field":"v","type":"quantitative"},
     "color":{"field":"s","type":"nominal","scale":{"domain":["3000","100","3","1000","30","1","300","10","Vehicle"],"range":["#e8302a","#8e2b64","#31a9dc","#4e7f59","#f6a21c","#111111","#3a2e9e","#9c6b55","#9a9a9a"]},"legend":{"title":"[Exendin-4] (pM)","orient":"none","legendX":-35,"legendY":119,"padding":5,"direction":"horizontal","columns":3,"columnPadding":6,"symbolType":"M-1.45,0L-0.4,0M0.4,0L1.45,0M0.4,0A0.4,0.4,0,1,1,-0.4,0A0.4,0.4,0,1,1,0.4,0Z","symbolSize":196,"symbolStrokeWidth":1}}}},
   {"transform":[{"fold":["3000","100","3","1000","30","1","300","10","Vehicle"],"as":["s","v"]}],"mark":{"type":"line","strokeWidth":4,"opacity":0.3},"encoding":{"x":{"field":"t","type":"quantitative"},"y":{"field":"v","type":"quantitative"},
     "color":{"field":"s","type":"nominal","scale":{"domain":["3000","100","3","1000","30","1","300","10","Vehicle"],"range":["#e8302a","#8e2b64","#31a9dc","#4e7f59","#f6a21c","#111111","#3a2e9e","#9c6b55","#9a9a9a"]},"legend":{"title":"[Exendin-4] (pM)","orient":"none","legendX":-35,"legendY":119,"padding":5,"direction":"horizontal","columns":3,"columnPadding":6,"symbolType":"M-1.45,0L-0.4,0M0.4,0L1.45,0M0.4,0A0.4,0.4,0,1,1,-0.4,0A0.4,0.4,0,1,1,0.4,0Z","symbolSize":196,"symbolStrokeWidth":1}}}},
   {"data":{"values":[{}]},"mark":{"type":"text","align":"left","baseline":"bottom","fontSize":9,"lineHeight":10.5,"dx":2,"dy":3,"text":["HEK293-GLP-1R","+ H188 Virus."]},"encoding":{"x":{"datum":0},"y":{"datum":1.8}}},
   {"data":{"values":[{}]},"mark":{"type":"text","fontSize":10,"text":"Ex-4"},"encoding":{"x":{"datum":93},"y":{"datum":1.573}}},
   {"data":{"values":[{}]},"mark":{"type":"rule","color":"#000"},"encoding":{"x":{"datum":96},"y":{"datum":1.512},"y2":{"datum":1.405}}},
   {"data":{"values":[{}]},"mark":{"type":"point","shape":"triangle-down","filled":true,"size":20,"color":"#000","opacity":1},"encoding":{"x":{"datum":96},"y":{"datum":1.395}}}
  ]},
 {"title":{"text":"e₂"},"width":131,"height":112,
  "data":{"values":[
   {"c":"1","lo":1.005,"q1":1.012,"md":1.02,"q3":1.028,"hi":1.035,"mn":1.02,"st":""},
   {"c":"3","lo":1.035,"q1":1.073,"md":1.078,"q3":1.083,"hi":1.1,"mn":1.077,"st":"*"},
   {"c":"10","lo":1.066,"q1":1.125,"md":1.16,"q3":1.185,"hi":1.2,"mn":1.155,"st":"*"},
   {"c":"30","lo":1.162,"q1":1.205,"md":1.256,"q3":1.377,"hi":1.387,"mn":1.28,"st":"*"},
   {"c":"100","lo":1.37,"q1":1.425,"md":1.547,"q3":1.577,"hi":1.59,"mn":1.51,"st":"*"},
   {"c":"300","lo":1.496,"q1":1.547,"md":1.585,"q3":1.68,"hi":1.686,"mn":1.6,"st":"*"},
   {"c":"1000","lo":1.666,"q1":1.673,"md":1.687,"q3":1.7,"hi":1.71,"mn":1.69,"st":"*"},
   {"c":"3000","lo":1.715,"q1":1.716,"md":1.72,"q3":1.724,"hi":1.725,"mn":1.72,"st":"*"}]},
  "encoding":{"x":{"field":"c","type":"ordinal","sort":null,"scale":{"paddingInner":0.2,"paddingOuter":0.45},"axis":{"labelAngle":-45,"title":"[Exendin-4] (pM)","titlePadding":6}}},
  "layer":[
   {"mark":{"type":"rule","color":"#222","strokeWidth":0.8},"encoding":{"y":{"field":"lo","type":"quantitative","scale":{"domain":[0.95,1.8],"nice":false,"zero":false},"axis":{"values":[1,1.2,1.4,1.6,1.8],"format":".1f","title":["Fold-Change","485/535 Ratio"]}},"y2":{"field":"hi"}}},
   {"mark":{"type":"tick","size":6,"thickness":0.8,"color":"#222","opacity":1},"encoding":{"y":{"field":"lo","type":"quantitative"}}},
   {"mark":{"type":"tick","size":6,"thickness":0.8,"color":"#222","opacity":1},"encoding":{"y":{"field":"hi","type":"quantitative"}}},
   {"mark":{"type":"bar","fill":"white","stroke":"#222","strokeWidth":0.8},"encoding":{"y":{"field":"q1","type":"quantitative"},"y2":{"field":"q3"}}},
   {"mark":{"type":"tick","size":12,"thickness":1,"color":"#111","opacity":1},"encoding":{"y":{"field":"md","type":"quantitative"}}},
   {"mark":{"type":"point","shape":"square","filled":true,"size":4,"color":"#111","opacity":1},"encoding":{"y":{"field":"mn","type":"quantitative"}}},
   {"mark":{"type":"text","baseline":"bottom","dy":4,"fontSize":11},"encoding":{"y":{"field":"hi","type":"quantitative"},"text":{"field":"st"}}},
   {"data":{"values":[{}]},"mark":{"type":"text","align":"left","baseline":"bottom","fontSize":9,"lineHeight":10.5,"dx":3,"dy":5,"text":["HEK293-GLP-1R","+H188 Virus"]},"encoding":{"x":{"datum":"1","bandPosition":0},"y":{"datum":1.8}}}
  ]},
 {"title":{"text":"e₃"},"width":124,"height":108,
  "layer":[
   {"data":{"values":[{"x":1,"y":1.025},{"x":1.5,"y":1.035},{"x":2,"y":1.045},{"x":3,"y":1.06},{"x":5,"y":1.09},{"x":7,"y":1.115},{"x":10,"y":1.15},{"x":15,"y":1.19},{"x":20,"y":1.225},{"x":30,"y":1.285},{"x":50,"y":1.37},{"x":70,"y":1.43},{"x":100,"y":1.48},{"x":150,"y":1.54},{"x":200,"y":1.575},{"x":300,"y":1.615},{"x":500,"y":1.655},{"x":700,"y":1.675},{"x":1000,"y":1.69},{"x":2000,"y":1.712},{"x":3000,"y":1.72}]},
    "mark":{"type":"line","color":"#e8302a","strokeWidth":1.2,"interpolate":"monotone"},
    "encoding":{"x":{"field":"x","type":"quantitative","scale":{"type":"log","domain":[0.4,3400],"nice":false},"axis":{"values":[1,3,10,30,100,300,1000,3000],"format":"d","labelAngle":-45,"title":"[Exendin-4] (pM)"}},
     "y":{"field":"y","type":"quantitative","scale":{"domain":[0.935,1.8],"nice":false,"zero":false},"axis":{"values":[1,1.2,1.4,1.6,1.8],"format":".1f","title":["Fold-Change","485/535 Ratio"]}}}},
   {"data":{"values":[{"x":1,"y":1.023,"lo":1.018,"hi":1.028},{"x":3,"y":1.073,"lo":1.068,"hi":1.078},{"x":10,"y":1.154,"lo":1.146,"hi":1.162},{"x":30,"y":1.279,"lo":1.255,"hi":1.3},{"x":100,"y":1.509,"lo":1.485,"hi":1.53},{"x":300,"y":1.6,"lo":1.585,"hi":1.615},{"x":1000,"y":1.68,"lo":1.675,"hi":1.686},{"x":3000,"y":1.719,"lo":1.714,"hi":1.724}]},
    "layer":[
     {"mark":{"type":"rule","color":"#111"},"encoding":{"x":{"field":"x","type":"quantitative"},"y":{"field":"lo","type":"quantitative"},"y2":{"field":"hi"}}},
     {"mark":{"type":"point","shape":"square","filled":true,"size":14,"color":"#111","opacity":1},"encoding":{"x":{"field":"x","type":"quantitative"},"y":{"field":"y","type":"quantitative"}}}
    ]},
   {"data":{"values":[{}]},"mark":{"type":"text","align":"left","baseline":"bottom","fontSize":9,"lineHeight":10.5,"dx":4,"dy":2,"text":["HEK293-GLP-1R","+ H188 Virus"]},"encoding":{"x":{"datum":0.4},"y":{"datum":1.8}}},
   {"data":{"values":[{}]},"mark":{"type":"text","align":"left","baseline":"middle","fontSize":11,"text":"K"},"encoding":{"x":{"datum":0.92},"y":{"datum":1.55}}},
   {"data":{"values":[{}]},"mark":{"type":"text","align":"left","baseline":"middle","fontSize":9,"fontStyle":"italic","dx":8,"dy":3,"text":"d"},"encoding":{"x":{"datum":0.92},"y":{"datum":1.55}}},
   {"data":{"values":[{}]},"mark":{"type":"text","align":"left","baseline":"middle","fontSize":11,"dx":16,"text":"49 pM"},"encoding":{"x":{"datum":0.92},"y":{"datum":1.55}}}
  ]}
]}
]}
]
}
